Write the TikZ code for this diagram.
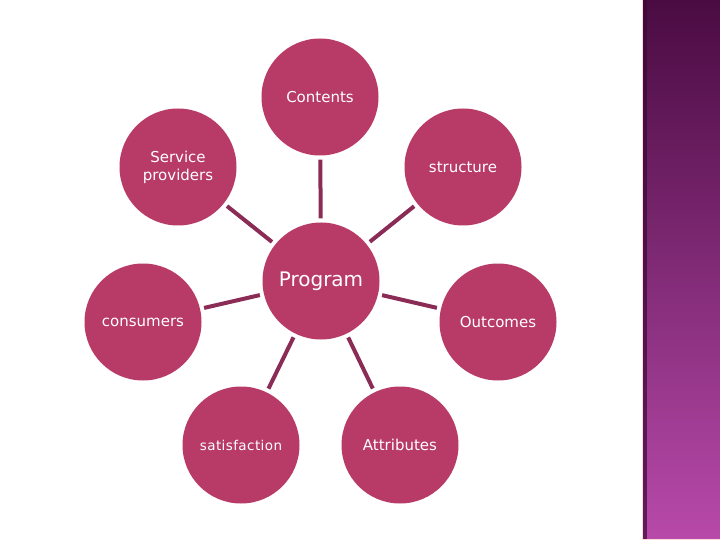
\documentclass[tikz,border=0pt]{standalone}
\usepackage{fontspec}
\setmainfont{DejaVu Sans}
\usepackage{xcolor}
\usetikzlibrary{positioning}

\definecolor{petal}{HTML}{B83A66}
\definecolor{stem}{HTML}{8A2C55}
\definecolor{stripTop}{HTML}{4A0B42}
\definecolor{stripBot}{HTML}{B84AAA}

\begin{document}
\begin{tikzpicture}[x=1pt, y=-1pt,
    petalnode/.style={circle, fill=petal, text=white, minimum size=117pt, inner sep=0pt, align=center, font=\fontsize{15}{18}\selectfont},
    stemline/.style={stem, line width=4pt, shorten <=4pt, shorten >=4pt}]
    % Page frame
    \useasboundingbox (0,0) rectangle (720,540);

    % Side strip
    \shade[top color=stripTop, bottom color=stripBot] (643,0) rectangle (720,540);
    \fill[stripTop!80!black, opacity=0.7] (643,0) rectangle (647,540);
    \draw[pink!60, line width=1pt] (642.5,0) -- (642.5,539.5) -- (720,539.5);

    % Centre
    \node[petalnode, font=\fontsize{20}{24}\selectfont] (Prog) at (321,281) {Program};

    % Outer circles
    \node[petalnode] (Cont) at (320,97) {Contents};
    \node[petalnode] (Serv) at (178,167) {Service\\providers};
    \node[petalnode] (Struc) at (463,167) {structure};
    \node[petalnode] (Cons) at (143,322) {consumers};
    \node[petalnode] (Outc) at (498,322) {Outcomes};
    \node[petalnode, font=\fontsize{13.5}{16}\selectfont\addfontfeatures{LetterSpace=3}] (Sat) at (241,445) {satisfaction};
    \node[petalnode] (Attr) at (400,445) {Attributes};

    % Draw connections
    \draw[stemline] (Prog) -- (Cont);
    \draw[stemline] (Prog) -- (Serv);
    \draw[stemline] (Prog) -- (Struc);
    \draw[stemline] (Prog) -- (Cons);
    \draw[stemline] (Prog) -- (Outc);
    \draw[stemline] (Prog) -- (Sat);
    \draw[stemline] (Prog) -- (Attr);
\end{tikzpicture}
\end{document}
